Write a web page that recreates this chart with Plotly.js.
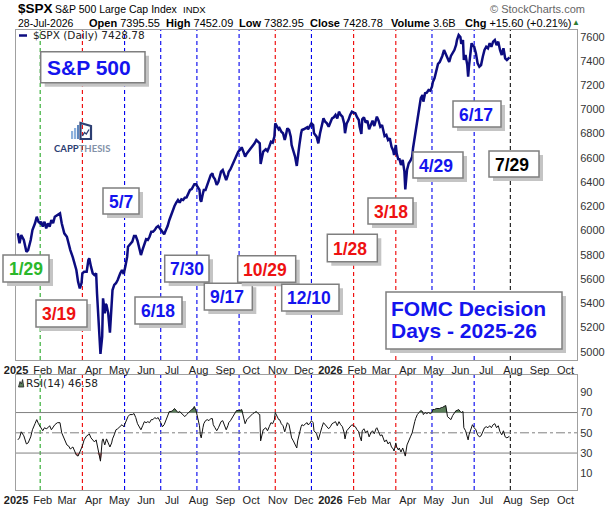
<!DOCTYPE html>
<html><head><meta charset="utf-8">
<script src="https://cdn.plot.ly/plotly-3.0.1.min.js"></script>
<style>html,body{margin:0;padding:0;background:#fff;}#chart{width:607px;height:507px;}</style>
</head><body><div id="chart"></div>
<script>
// ---------------- DATA ----------------
const priceDates = [
'2025-01-03','2025-01-05','2025-01-07','2025-01-10','2025-01-13','2025-01-15','2025-01-18','2025-01-20','2025-01-23','2025-01-25','2025-01-27','2025-01-29',
'2025-01-30','2025-02-01','2025-02-03','2025-02-05','2025-02-07','2025-02-09','2025-02-11','2025-02-13','2025-02-15','2025-02-18','2025-02-21','2025-02-23',
'2025-02-26','2025-03-01','2025-03-03','2025-03-05','2025-03-08','2025-03-10','2025-03-12','2025-03-14','2025-03-16','2025-03-18','2025-03-19','2025-03-21',
'2025-03-24','2025-03-26','2025-03-27','2025-03-29','2025-03-31','2025-04-02','2025-04-04','2025-04-05','2025-04-07','2025-04-09','2025-04-11','2025-04-12',
'2025-04-14','2025-04-15','2025-04-16','2025-04-18','2025-04-20','2025-04-22','2025-04-23','2025-04-25','2025-04-27','2025-04-29','2025-05-01','2025-05-02',
'2025-05-04','2025-05-06','2025-05-08','2025-05-10','2025-05-11','2025-05-13','2025-05-16','2025-05-18','2025-05-20','2025-05-22','2025-05-24','2025-05-26',
'2025-05-28','2025-05-30','2025-06-01','2025-06-03','2025-06-05','2025-06-07','2025-06-09','2025-06-11','2025-06-13','2025-06-15','2025-06-18','2025-06-20',
'2025-06-22','2025-06-24','2025-06-26','2025-06-28','2025-06-30','2025-07-02','2025-07-04','2025-07-06','2025-07-08','2025-07-10','2025-07-12','2025-07-14',
'2025-07-16','2025-07-18','2025-07-20','2025-07-22','2025-07-24','2025-07-26','2025-07-27','2025-07-29','2025-07-31','2025-08-02','2025-08-03','2025-08-04',
'2025-08-06','2025-08-07','2025-08-09','2025-08-11','2025-08-13','2025-08-15','2025-08-17','2025-08-18','2025-08-20','2025-08-22','2025-08-24','2025-08-26',
'2025-08-27','2025-08-29','2025-08-31','2025-09-02','2025-09-04','2025-09-05','2025-09-07','2025-09-09','2025-09-11','2025-09-13','2025-09-14','2025-09-16',
'2025-09-18','2025-09-20','2025-09-22','2025-09-24','2025-09-26','2025-09-29','2025-10-01','2025-10-03','2025-10-05','2025-10-07','2025-10-09','2025-10-11',
'2025-10-12','2025-10-14','2025-10-15','2025-10-18','2025-10-20','2025-10-22','2025-10-24','2025-10-26','2025-10-28','2025-10-29','2025-10-31','2025-11-02',
'2025-11-03','2025-11-05','2025-11-07','2025-11-09','2025-11-10','2025-11-12','2025-11-14','2025-11-16','2025-11-17','2025-11-19','2025-11-21','2025-11-23',
'2025-11-24','2025-11-26','2025-11-28','2025-11-29','2025-12-01','2025-12-03','2025-12-05','2025-12-06','2025-12-08','2025-12-10','2025-12-12','2025-12-13',
'2025-12-16','2025-12-18','2025-12-20','2025-12-22','2025-12-24','2025-12-26','2025-12-28','2025-12-30','2026-01-01','2026-01-03','2026-01-05','2026-01-07',
'2026-01-09','2026-01-11','2026-01-13','2026-01-15','2026-01-17','2026-01-18','2026-01-20','2026-01-22','2026-01-24','2026-01-26','2026-01-28','2026-01-30',
'2026-02-01','2026-02-03','2026-02-04','2026-02-06','2026-02-07','2026-02-09','2026-02-11','2026-02-13','2026-02-15','2026-02-17','2026-02-19','2026-02-21',
'2026-02-23','2026-02-24','2026-02-26','2026-02-28','2026-03-02','2026-03-04','2026-03-05','2026-03-07','2026-03-09','2026-03-11','2026-03-13','2026-03-15',
'2026-03-16','2026-03-18','2026-03-19','2026-03-21','2026-03-22','2026-03-24','2026-03-26','2026-03-28','2026-03-29','2026-03-31','2026-04-02','2026-04-04',
'2026-04-06','2026-04-07','2026-04-09','2026-04-10','2026-04-12','2026-04-14','2026-04-16','2026-04-18','2026-04-19','2026-04-21','2026-04-23','2026-04-25',
'2026-04-27','2026-04-29','2026-04-30','2026-05-02','2026-05-04','2026-05-06','2026-05-08','2026-05-10','2026-05-11','2026-05-13','2026-05-15','2026-05-17',
'2026-05-19','2026-05-21','2026-05-23','2026-05-25','2026-05-27','2026-05-28','2026-05-30','2026-06-01','2026-06-02','2026-06-04','2026-06-05','2026-06-07',
'2026-06-09','2026-06-10','2026-06-11','2026-06-13','2026-06-14','2026-06-15','2026-06-17','2026-06-19','2026-06-21','2026-06-23','2026-06-25','2026-06-27',
'2026-06-29','2026-07-01','2026-07-03','2026-07-05','2026-07-07','2026-07-09','2026-07-11','2026-07-13','2026-07-15','2026-07-17','2026-07-19','2026-07-21',
'2026-07-23','2026-07-25','2026-07-27','2026-07-28'];

const priceValues = [
5977,5895,5963,5922,5825,5839,5922,6004,6060,6114,6073,6060,
6073,6032,6073,6018,6060,6032,6087,6060,6114,6128,6142,6060,
5977,5949,5881,5839,5777,5716,5674,5578,5523,5565,5647,5660,
5660,5757,5771,5702,5647,5633,5647,5482,5179,4981,5124,5441,
5317,5394,5385,5317,5157,5344,5509,5551,5565,5592,5633,5647,
5674,5641,5707,5784,5867,5881,5908,5955,5955,5916,5867,5798,
5845,5895,5928,5922,5949,5990,5990,6004,6027,6037,6004,5990,
5969,6004,6037,6087,6128,6175,6203,6230,6252,6230,6258,6252,
6271,6274,6299,6335,6343,6368,6382,6382,6357,6335,6252,6238,
6307,6335,6335,6376,6403,6458,6472,6444,6423,6376,6403,6472,
6486,6500,6458,6417,6458,6486,6506,6541,6568,6596,6624,6651,
6665,6687,6651,6610,6637,6665,6679,6706,6720,6747,6733,6720,
6549,6637,6651,6671,6657,6692,6733,6725,6775,6885,6857,6836,
6844,6816,6803,6747,6775,6844,6830,6775,6706,6665,6610,6533,
6610,6706,6803,6830,6836,6844,6852,6836,6857,6885,6871,6803,
6775,6720,6803,6857,6926,6898,6885,6857,6885,6926,6935,6954,
6926,6981,6954,6940,6885,6803,6885,6912,6954,6981,6973,6968,
6935,6912,6857,6797,6918,6935,6890,6907,6836,6879,6907,6863,
6926,6940,6907,6857,6871,6824,6780,6789,6747,6761,6692,6659,
6624,6706,6637,6582,6596,6541,6582,6486,6340,6500,6555,6577,
6610,6679,6775,6830,6912,6995,7092,7119,7064,7133,7138,7160,
7154,7187,7226,7259,7325,7375,7391,7416,7441,7490,7457,7424,
7391,7441,7466,7490,7532,7573,7614,7598,7540,7573,7408,7449,
7366,7270,7358,7490,7546,7531,7517,7463,7380,7352,7366,7435,
7490,7517,7504,7546,7517,7559,7573,7531,7559,7490,7449,7504,
7422,7408,7422,7428.78];

const rsiValues = [
43,45,51,47,39,40,46,53,59,63,59,56,
55,52,55,54,55,57,53,56,58,60,60,50,
43,38,37,34,36,31,28,27,31,35,37,43,
47,48,49,45,43,41,43,38,28,22,42,44,
38,42,44,40,36,40,44,48,53,54,56,57,
58,56,60,64,66,68,68,69,65,59,56,53,
57,61,60,61,60,63,63,65,64,65,60,56,
58,62,67,71,71,72,74,72,70,71,69,67,
66,68,70,71,73,74,76,72,64,57,48,45,
55,59,62,63,62,64,64,58,55,52,55,60,
61,62,57,53,57,60,62,65,68,70,72,72,
72,73,67,59,63,66,67,69,70,71,69,68,
42,52,53,55,52,56,60,59,63,70,67,63,
63,59,57,51,54,60,58,50,45,42,38,35,
42,50,56,58,57,59,60,58,59,62,60,52,
49,43,50,55,60,58,56,54,56,59,60,61,
57,61,58,56,50,44,52,54,57,58,57,56,
53,51,47,42,52,54,50,52,46,50,52,49,
54,55,51,47,48,44,41,43,39,41,36,34,
32,40,36,33,35,31,35,30,27,38,43,46,
50,55,61,64,68,70,72,71,68,70,69,70,
69,70,73,73,74,74,74,75,75,76,77,66,
64,63,67,70,72,72,73,71,70,71,55,52,
47,43,48,53,56,58,55,53,48,46,47,52,
55,56,55,57,55,58,59,55,57,51,48,52,
46,45,46,46.58];

const fomcDates  = ['2025-01-29','2025-03-19','2025-05-07','2025-06-18','2025-07-30','2025-09-17','2025-10-29','2025-12-10','2026-01-28','2026-03-18','2026-04-29','2026-06-17','2026-07-29'];
const fomcLabels = ['1/29','3/19','5/7','6/18','7/30','9/17','10/29','12/10','1/28','3/18','4/29','6/17','7/29'];
const fomcKind   = ['g','r','b','b','b','b','r','b','r','r','b','b','k'];

const priceTicks = [5000,5200,5400,5600,5800,6000,6200,6400,6600,6800,7000,7200,7400,7600];
const rsiTicks   = [10,30,50,70,90];
const monthTicks = ['2025-01-01','2025-02-01','2025-03-01','2025-04-01','2025-05-01','2025-06-01','2025-07-01','2025-08-01','2025-09-01','2025-10-01','2025-11-01','2025-12-01',
                    '2026-01-01','2026-02-01','2026-03-01','2026-04-01','2026-05-01','2026-06-01','2026-07-01','2026-08-01','2026-09-01','2026-10-01'];
const monthLabels = ['<b>2025</b>','Feb','Mar','Apr','May','Jun','Jul','Aug','Sep','Oct','Nov','Dec',
                     '<b>2026</b>','Feb','Mar','Apr','May','Jun','Jul','Aug','Sep','Oct'];

const hdrSymbol = '$SPX', hdrName = 'S&P 500 Large Cap Index', hdrExch = 'INDX', hdrDate = '28-Jul-2026';
const hdrOpen = '7395.55', hdrHigh = '7452.09', hdrLow = '7382.95', hdrClose = '7428.78', hdrVol = '3.6B', hdrChg = '+15.60 (+0.21%)';
const rsiLast = '46.58';

// ---------------- LAYOUT HELPERS ----------------
const L = 16, R = 577, T = 30, B = 490;
const px = x => (x - L) / (R - L);
const py = y => (B - y) / (B - T);
const FONT = 'Liberation Sans, Arial, sans-serif';
const lineCol = {g:'#27a827', r:'#ee0000', b:'#0000ee', k:'#111111'};
const textCol = {g:'#2bb82b', r:'#ee1111', b:'#1414ee', k:'#000000'};

// label box placement (pixels): x0,y0,x1,y1
const boxPlace = [
 [3,255,49,282],[36,300,87,327],[103,188,139,214],[135,297,182,324],[164.7,255.3,209,282],
 [204.3,283.3,252.3,310],[237.7,255.7,295.7,282.3],[281.7,284.3,339,311],[327.3,234.3,377.3,261.7],
 [368,198,413,224],[413,152,463,178],[453,101,501,127],[489,151,539,177]
];

const shapes = [];
const annotations = [];

// FOMC vertical dashed lines in both panels
fomcDates.forEach((d, i) => {
  const c = lineCol[fomcKind[i]];
  shapes.push({type:'line', xref:'x2', yref:'y domain', x0:d, x1:d, y0:0, y1:1, layer:'below', line:{color:c, width:1.1, dash:'4px,3px'}});
  shapes.push({type:'line', xref:'x', yref:'y2 domain', x0:d, x1:d, y0:0, y1:1, layer:'below', line:{color:c, width:1.1, dash:'4px,3px'}});
});
// RSI reference lines
[[70,'solid'],[30,'solid'],[50,'dashdot']].forEach(([v,dash]) => {
  shapes.push({type:'line', xref:'x domain', yref:'y2', x0:0, x1:1, y0:v, y1:v, layer:'below', line:{color:'#808080', width:1, dash:dash}});
});

function box(x0,y0,x1,y1){
  shapes.push({type:'rect', xref:'paper', yref:'paper', x0:px(x0+4), x1:px(x1+4), y0:py(y0+4), y1:py(y1+4), fillcolor:'#c4c4c4', line:{width:0}, layer:'above'});
  shapes.push({type:'rect', xref:'paper', yref:'paper', x0:px(x0), x1:px(x1), y0:py(y0), y1:py(y1), fillcolor:'#ffffff', line:{color:'#7f7f7f', width:1.5}, layer:'above'});
}
function txt(x, y, text, size, color, extra){
  annotations.push(Object.assign({xref:'paper', yref:'paper', x:px(x), y:py(y), text:text, showarrow:false,
    xanchor:'left', yanchor:'middle', font:{family:FONT, size:size, color:color}}, extra||{}));
}
function pathOf(pts){ return 'M' + pts.map(p => px(p[0]) + ',' + py(p[1])).join(' L') + ' Z'; }

// FOMC date boxes
fomcLabels.forEach((t, i) => {
  const [x0,y0,x1,y1] = boxPlace[i];
  box(x0,y0,x1,y1);
  txt(x0+3.5, (y0+y1)/2 + 0.5, '<b>' + t + '</b>', 17.5, textCol[fomcKind[i]]);
});
// S&P 500 box
box(40.7,51.7,145,82.7);
txt(44.5, 67.5, '<b>S&P 500</b>', 21, textCol.b);
// FOMC title box
box(386,292,562,349);
txt(388.5, 308, '<b>FOMC Decision</b>', 21, textCol.b);
txt(388.5, 330, '<b>Days - 2025-26</b>', 21, textCol.b);

// header
txt(16, 8.5, '<b>' + hdrSymbol + '</b>', 13.5, '#000');
txt(53, 9, hdrName, 10.5, '#000');
txt(181, 9.3, hdrExch, 9.5, '#000');
txt(16, 22.5, hdrDate, 10.5, '#000');
txt(87, 22.5, '<b>Open</b> ' + hdrOpen, 11, '#000');
txt(164, 22.5, '<b>High</b> ' + hdrHigh, 11, '#000');
txt(237, 22.5, '<b>Low</b> ' + hdrLow, 11, '#000');
txt(308, 22.5, '<b>Close</b> ' + hdrClose, 11, '#000');
txt(389, 22.5, '<b>Volume</b> ' + hdrVol, 11, '#000');
txt(463, 22.5, '<b>Chg</b> ' + hdrChg, 11, '#000');
txt(569.5, 22, '\u25B2', 8, '#2e7d32');
txt(488, 9, '\u00A9 StockCharts.com', 11, '#666');

// main legend
shapes.push({type:'line', xref:'paper', yref:'paper', x0:px(19), x1:px(27), y0:py(35.5), y1:py(35.5), line:{color:'#0c0c80', width:2.5}});
txt(31, 35.5, hdrSymbol + ' (Daily) ' + hdrClose, 10.5, '#222', {font:{family:'DejaVu Sans, sans-serif', size:10.5, color:'#222'}});
// RSI legend
shapes.push({type:'path', xref:'paper', yref:'paper', path:pathOf([[18.5,387],[20,381.5],[21.3,384],[22.6,379.5],[23.8,387]]), fillcolor:'#5b7f5b', line:{color:'#222', width:0.8}});
txt(24, 383, 'RSI(14) ' + rsiLast, 10.5, '#222', {font:{family:'DejaVu Sans, sans-serif', size:10.5, color:'#222'}});

// CAPPTHESIS logo
shapes.push({type:'rect', xref:'paper', yref:'paper', x0:px(71), x1:px(73.2), y0:py(139), y1:py(131), fillcolor:'#8db1dd', line:{width:0}});
shapes.push({type:'rect', xref:'paper', yref:'paper', x0:px(74), x1:px(76.2), y0:py(139), y1:py(128), fillcolor:'#8db1dd', line:{width:0}});
shapes.push({type:'rect', xref:'paper', yref:'paper', x0:px(77), x1:px(79), y0:py(139), y1:py(125), fillcolor:'#5d86bd', line:{width:0}});
shapes.push({type:'path', xref:'paper', yref:'paper', path:pathOf([[80.5,139],[80.5,123],[91,126],[91,139]]), fillcolor:'rgba(0,0,0,0)', line:{color:'#2c3e72', width:2.2}});
shapes.push({type:'path', xref:'paper', yref:'paper', path:'M' + [[82.5,136],[84.5,132.5],[86.3,134],[89,129.5]].map(p=>px(p[0])+','+py(p[1])).join(' L'), line:{color:'#2c3e72', width:1.3}});
txt(51.7, 149, '<b><span style="color:#2c3e72">CAPP</span><span style="color:#8391a8">THESIS</span></b>', 9.5, '#2c3e72', {font:{family:'Lato, Liberation Sans, sans-serif', size:9.5, color:'#2c3e72'}});

// ---------------- TRACES ----------------
const rsiHi = rsiValues.map(v => Math.max(v, 70));
const rsiLo = rsiValues.map(v => Math.min(v, 30));
const traces = [
  {x:priceDates, y:priceValues, xaxis:'x2', yaxis:'y', type:'scatter', mode:'lines', line:{color:'#0c0c80', width:2.5}, hoverinfo:'skip'},
  {x:priceDates, y:priceDates.map(()=>70), xaxis:'x', yaxis:'y2', type:'scatter', mode:'lines', line:{width:0}, hoverinfo:'skip'},
  {x:priceDates, y:rsiHi, xaxis:'x', yaxis:'y2', type:'scatter', mode:'lines', line:{width:0}, fill:'tonexty', fillcolor:'#5b7f5b', hoverinfo:'skip'},
  {x:priceDates, y:priceDates.map(()=>30), xaxis:'x', yaxis:'y2', type:'scatter', mode:'lines', line:{width:0}, hoverinfo:'skip'},
  {x:priceDates, y:rsiLo, xaxis:'x', yaxis:'y2', type:'scatter', mode:'lines', line:{width:0}, fill:'tonexty', fillcolor:'#c47a7a', hoverinfo:'skip'},
  {x:priceDates, y:rsiValues, xaxis:'x', yaxis:'y2', type:'scatter', mode:'lines', line:{color:'#111', width:1}, hoverinfo:'skip'}
];

const xCommon = {type:'date', range:['2024-12-31 22:00','2026-10-14 10:00'], tickmode:'array', tickvals:monthTicks, ticktext:monthLabels,
  showgrid:false, zeroline:false, ticks:'', showline:true, linecolor:'#a0a0a0', linewidth:1, mirror:true,
  tickfont:{family:FONT, size:11, color:'#222'}, domain:[0,1]};
const yCommon = {side:'right', showgrid:false, zeroline:false, ticks:'', showline:true, linecolor:'#a0a0a0', linewidth:1, mirror:true,
  tickfont:{family:FONT, size:11, color:'#333'}, tickmode:'array'};

const layout = {
  width:607, height:507, margin:{l:L, r:607-R, t:T, b:507-B, pad:0},
  paper_bgcolor:'#ffffff', plot_bgcolor:'#ffffff', showlegend:false,
  xaxis: Object.assign({}, xCommon, {anchor:'y2'}),
  xaxis2: Object.assign({}, xCommon, {anchor:'y', matches:'x'}),
  yaxis: Object.assign({}, yCommon, {anchor:'x2', domain:[py(360),1], range:[4931.5,7655.3], tickvals:priceTicks}),
  yaxis2: Object.assign({}, yCommon, {anchor:'x', domain:[0,py(375)], range:[-6.5,107.1], tickvals:rsiTicks}),
  shapes:shapes, annotations:annotations
};

Plotly.newPlot('chart', traces, layout, {staticPlot:true, displayModeBar:false});
</script>
</body></html>
